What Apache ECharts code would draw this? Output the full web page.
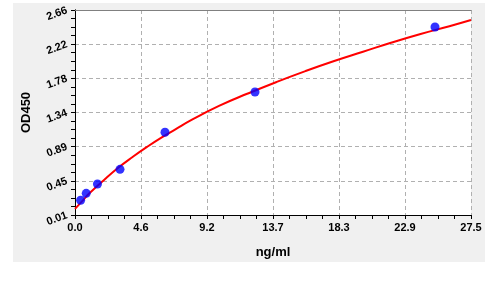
<!DOCTYPE html>
<html>
<head>
<meta charset="utf-8">
<script src="https://cdn.jsdelivr.net/npm/echarts@6/dist/echarts.min.js"></script>
<style>
html,body{margin:0;padding:0;background:#ffffff;}
#panel{position:absolute;left:13px;top:3px;width:472px;height:259px;background:#f0f0f0;}
#chart{position:absolute;left:0;top:0;width:496px;height:282px;}
</style>
</head>
<body>
<div id="panel"></div>
<div id="chart"></div>
<script>
// Standards (concentration, OD450)
var concentrations = [0.39, 0.78, 1.56, 3.125, 6.25, 12.5, 25];
var odValues = [0.20, 0.29, 0.41, 0.60, 1.08, 1.60, 2.44];

// Fitted curve
var curveX = [0, 0.5, 1, 2, 3, 4, 5, 6, 7, 8, 10, 12, 14, 16, 18, 20, 22, 24, 26, 27.5];
var curveY = [0.09, 0.19, 0.29, 0.46, 0.62, 0.76, 0.89, 1.01, 1.12, 1.23, 1.42, 1.58, 1.73, 1.87, 2.00, 2.12, 2.24, 2.35, 2.45, 2.53];

// Tick labels
var xTickLabels = ['0.0', '4.6', '9.2', '13.7', '18.3', '22.9', '27.5'];
var yTickLabels = ['0.01', '0.45', '0.89', '1.34', '1.78', '2.22', '2.66'];

var xMin = 0, xMax = 27.5, xInt = 27.5 / 6;
var yMin = 0.01, yMax = 2.66, yInt = 2.65 / 6;

var chart = echarts.init(document.getElementById('chart'));
var font = 'Arial, "Liberation Sans", sans-serif';

function xLab(v) { var i = Math.round((v - xMin) / xInt); return xTickLabels[i] || ''; }
function yLab(v) { var i = Math.round((v - yMin) / yInt); return yTickLabels[i] || ''; }

var option = {
  animation: false,
  backgroundColor: 'transparent',
  grid: { left: 75, top: 10, right: 25, bottom: 67, show: true, backgroundColor: '#ffffff', borderWidth: 0 },
  xAxis: [{
    type: 'value', min: xMin, max: xMax, interval: xInt,
    name: 'ng/ml', nameLocation: 'middle', nameGap: 31,
    nameTextStyle: { fontFamily: font, fontWeight: 'bold', fontSize: 13, color: '#000' },
    axisLine: { show: true, onZero: false, lineStyle: { color: '#000', width: 1 } },
    axisTick: { show: true, length: 4, lineStyle: { color: '#000' } },
    minorTick: { show: true, splitNumber: 4, length: 4, lineStyle: { color: '#000' } },
    splitLine: { show: true, lineStyle: { color: '#b0b0b0', type: [4, 3] } },
    axisLabel: { formatter: xLab, fontFamily: font, fontWeight: 'bold', fontSize: 11, color: '#000', margin: 7 }
  }, {
    type: 'value', position: 'top', min: xMin, max: xMax,
    axisLine: { show: true, lineStyle: { color: '#808080' } },
    axisTick: { show: false }, axisLabel: { show: false }, splitLine: { show: false }
  }],
  yAxis: [{
    type: 'value', min: yMin, max: yMax, interval: yInt,
    name: 'OD450', nameLocation: 'middle', nameGap: 42,
    nameTextStyle: { fontFamily: font, fontWeight: 'bold', fontSize: 13, color: '#000' },
    axisLine: { show: true, onZero: false, lineStyle: { color: '#000', width: 1 } },
    axisTick: { show: true, length: 4, lineStyle: { color: '#000' } },
    minorTick: { show: true, splitNumber: 4, length: 4, lineStyle: { color: '#000' } },
    splitLine: { show: true, lineStyle: { color: '#b0b0b0', type: [4, 3] } },
    axisLabel: { formatter: yLab, fontFamily: font, fontWeight: 'bold', fontSize: 11, color: '#000', rotate: 20, margin: 8 }
  }, {
    type: 'value', position: 'right', min: yMin, max: yMax,
    axisLine: { show: true, lineStyle: { color: '#000' } },
    axisTick: { show: false }, axisLabel: { show: false }, splitLine: { show: false }
  }],
  series: [{
    type: 'line', smooth: true, showSymbol: false, symbol: 'none',
    data: curveX.map(function (x, i) { return [x, curveY[i]]; }),
    lineStyle: { color: '#ff0000', width: 2 }, z: 2
  }, {
    type: 'scatter', symbol: 'circle', symbolSize: 9,
    data: concentrations.map(function (x, i) { return [x, odValues[i]]; }),
    itemStyle: { color: '#0000ff' }, z: 3
  }]
};
chart.setOption(option);
</script>
</body>
</html>
